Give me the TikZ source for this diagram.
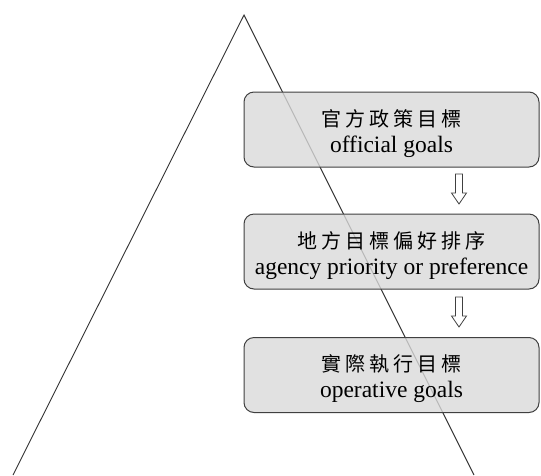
\documentclass[tikz,border=0pt]{standalone}
\usepackage{fontspec}
\setmainfont{Liberation Serif}
\newfontfamily\cjk[LetterSpace=20]{Noto Sans CJK TC}
\newcommand\zh[1]{\rule{0pt}{25pt}{\fontsize{20}{24}\cjk #1}}

\begin{document}
\begin{tikzpicture}[x=1pt,y=-1pt,font=\fontsize{23.5}{26}\selectfont,
  goalbox/.style={draw=black!75,line width=1pt,rounded corners=10pt,fill=gray!30,
    fill opacity=0.8,text opacity=1,minimum width=295pt,minimum height=75pt,
    align=center,inner sep=0pt},
  hollow/.style={draw=black!75,line width=0.8pt,fill=white}]
  \useasboundingbox (0,0) rectangle (541,475);
  % pyramid sides
  \coordinate (top) at (244,15);
  \coordinate (bl) at (13,475);
  \coordinate (br) at (474,475);
  \draw[line width=0.9pt,black!80] (bl) -- (top) -- (br);
  % goal levels
  \node[goalbox] (g1) at (391.5,129.5) {\zh{官方政策目標}\\official goals};
  \node[goalbox] (g2) at (391.5,251.5) {\zh{地方目標偏好排序}\\agency priority or preference};
  \node[goalbox] (g3) at (391.5,375)   {\zh{實際執行目標}\\operative goals};
  % hollow arrows between levels
  \foreach \a/\y in {a1/189,a2/312}{
    \coordinate (\a) at (459,\y);
    \draw[hollow] (\a) ++(-3.5,-15) -- ++(7,0) -- ++(0,19) -- ++(4,0)
      -- ++(-7.5,11) -- ++(-7.5,-11) -- ++(4,0) -- cycle;
  }
\end{tikzpicture}
\end{document}
